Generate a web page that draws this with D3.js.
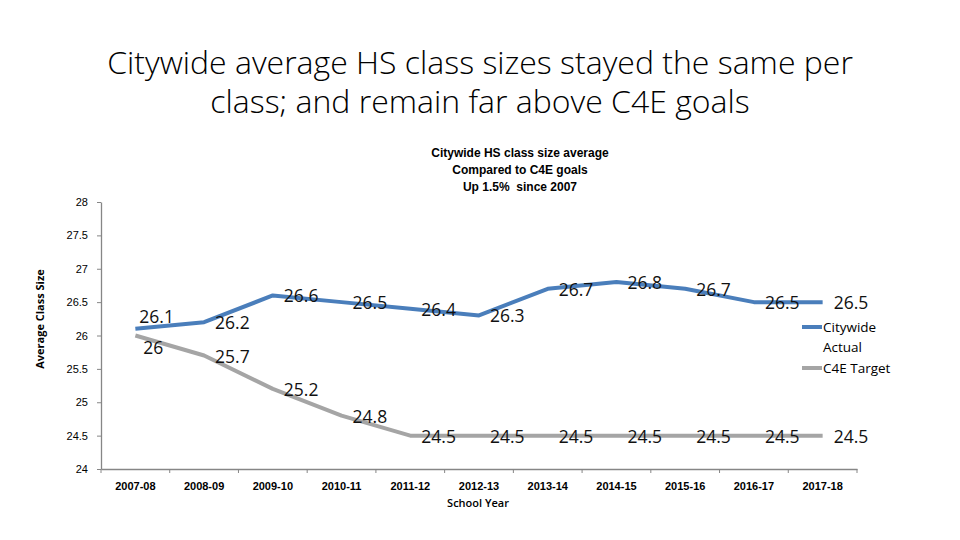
<!DOCTYPE html>
<html>
<head>
<meta charset="utf-8">
<script src="https://cdn.jsdelivr.net/npm/d3@7"></script>
<style>
  body { margin: 0; background: #fff; }
  svg { display: block; }
</style>
</head>
<body>
<div id="chart"></div>
<script>
const years = ['2007-08', '2008-09', '2009-10', '2010-11', '2011-12', '2012-13',
    '2013-14', '2014-15', '2015-16', '2016-17', '2017-18'];
const actual = [26.1, 26.2, 26.6, 26.5, 26.4, 26.3, 26.7, 26.8, 26.7, 26.5, 26.5];
const target = [26, 25.7, 25.2, 24.8, 24.5, 24.5, 24.5, 24.5, 24.5, 24.5, 24.5];
const yTicks = [24, 24.5, 25, 25.5, 26, 26.5, 27, 27.5, 28];

const width = 960, height = 540;
const margin = {top: 202, right: 103, bottom: 71, left: 101};

const svg = d3.select('#chart').append('svg')
    .attr('width', width)
    .attr('height', height);

// slide title
svg.append('text')
    .attr('x', 480).attr('y', 74)
    .attr('text-anchor', 'middle')
    .style('font-family', 'Open Sans').style('font-weight', 300)
    .style('font-size', '32px').attr('fill', '#000')
    .text('Citywide average HS class sizes stayed the same per');
svg.append('text')
    .attr('x', 480).attr('y', 113)
    .attr('text-anchor', 'middle')
    .style('font-family', 'Open Sans').style('font-weight', 300)
    .style('font-size', '32px').attr('fill', '#000')
    .text('class; and remain far above C4E goals');

// chart title
const sub = ['Citywide HS class size average', 'Compared to C4E goals', 'Up 1.5%  since 2007'];
svg.append('g').selectAll('text')
    .data(sub)
    .join('text')
    .attr('x', 520)
    .attr('y', (d, i) => 157 + i * 17)
    .attr('text-anchor', 'middle')
    .style('font-family', 'Liberation Sans').style('font-weight', 'bold')
    .style('font-size', '12px')
    .style('white-space', 'pre')
    .text(d => d);

const x = d3.scaleBand()
    .domain(years)
    .range([margin.left, width - margin.right]);
const y = d3.scaleLinear()
    .domain([24, 28])
    .range([height - margin.bottom, margin.top]);

const xAxis = svg.append('g')
    .attr('transform', `translate(0,${height - margin.bottom})`)
    .call(d3.axisBottom(x).tickSizeOuter(0).tickSizeInner(0).tickPadding(13));
const yAxis = svg.append('g')
    .attr('transform', `translate(${margin.left},0)`)
    .call(d3.axisLeft(y).tickValues(yTicks).tickFormat(d => d)
        .tickSizeInner(4).tickSizeOuter(0).tickPadding(9));

// vertical ticks between categories on the x axis
xAxis.selectAll('.cat-tick')
    .data(years.concat(['end']))
    .join('line')
    .attr('class', 'cat-tick')
    .attr('x1', (d, i) => margin.left + i * x.step())
    .attr('x2', (d, i) => margin.left + i * x.step())
    .attr('y1', 0).attr('y2', 4)
    .attr('stroke', '#868686');

[xAxis, yAxis].forEach(a => {
    a.select('.domain').attr('stroke', '#868686').attr('stroke-width', 1.3);
    a.selectAll('.tick line').attr('stroke', '#868686');
    a.selectAll('text')
        .style('font-family', 'Liberation Sans Narrow, Liberation Sans')
        .style('font-size', '11px').attr('fill', '#000');
});
xAxis.selectAll('text').style('font-weight', 'bold');

svg.append('text')
    .attr('x', 478).attr('y', 507)
    .attr('text-anchor', 'middle')
    .style('font-family', 'Open Sans').style('font-weight', 600)
    .style('font-size', '11px')
    .text('School Year');
svg.append('text')
    .attr('transform', 'translate(44,319) rotate(-90)')
    .attr('text-anchor', 'middle')
    .style('font-family', 'Open Sans').style('font-weight', 700)
    .style('font-size', '11px')
    .text('Average Class Size');

const line = d3.line()
    .x((d, i) => x(years[i]) + x.bandwidth() / 2)
    .y(d => y(d));

const series = [
    {name: 'target', values: target, color: '#a5a5a5'},
    {name: 'actual', values: actual, color: '#4a7ebb'}
];

svg.append('g').selectAll('path')
    .data(series)
    .join('path')
    .attr('d', d => line(d.values))
    .attr('fill', 'none')
    .attr('stroke', d => d.color)
    .attr('stroke-width', 4)
    .attr('stroke-linejoin', 'round');

// data labels, mostly to the right of the point
function labelPos(s, i) {
    const px = x(years[i]) + x.bandwidth() / 2;
    const py = y(s.values[i]);
    if (i === 0 && s.name === 'actual') return [px + 4, py - 6];
    if (i === 0 && s.name === 'target') return [px + 8, py + 18];
    return [px + 11, py + 7];
}
series.forEach(s => {
    svg.append('g').selectAll('text')
        .data(s.values)
        .join('text')
        .attr('x', (d, i) => labelPos(s, i)[0])
        .attr('y', (d, i) => labelPos(s, i)[1])
        .style('font-family', 'Open Sans')
        .style('font-size', '17.5px')
        .attr('fill', '#111')
        .text(d => d);
});

// legend
const legend = svg.append('g').attr('transform', 'translate(802,0)');
legend.append('line').attr('x1', 0).attr('x2', 20).attr('y1', 327).attr('y2', 327)
    .attr('stroke', '#4a7ebb').attr('stroke-width', 4);
legend.append('line').attr('x1', 0).attr('x2', 20).attr('y1', 368).attr('y2', 368)
    .attr('stroke', '#a5a5a5').attr('stroke-width', 4);
[['Citywide', 332], ['Actual', 352], ['C4E Target', 373]].forEach(([t, ty]) => {
    legend.append('text').attr('x', 21).attr('y', ty)
        .style('font-family', 'Open Sans').style('font-size', '13.5px')
        .text(t);
});
</script>
</body>
</html>
